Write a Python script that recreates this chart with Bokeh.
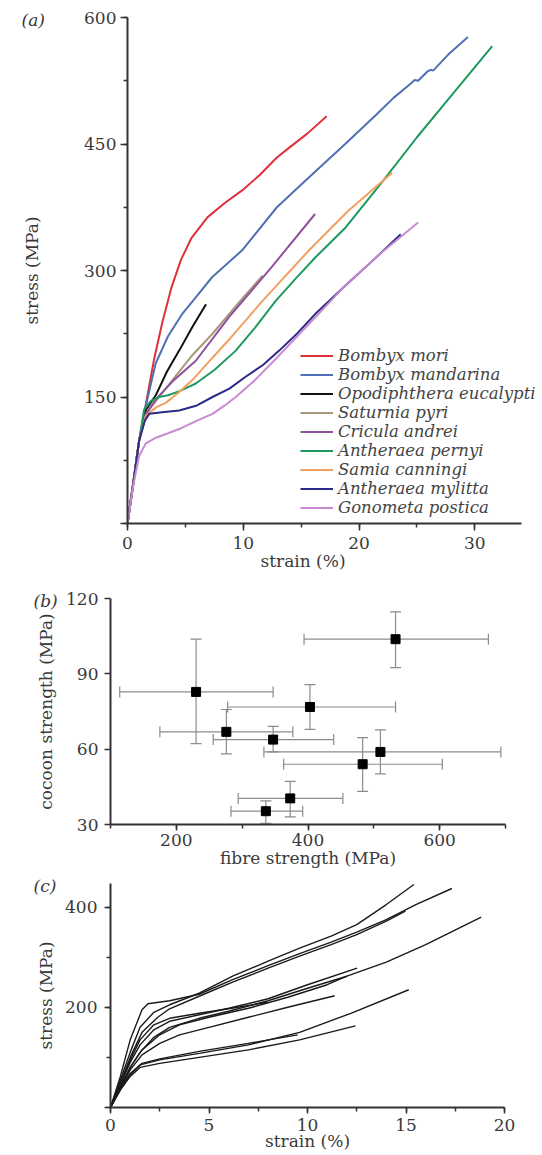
from bokeh.plotting import figure
from bokeh.models import (Legend, LegendItem, SingleIntervalTicker, Title,
                          Range1d, Whisker, TeeHead, ColumnDataSource)
from bokeh.embed import file_html
from bokeh.resources import INLINE

FONT = "DejaVu Serif"
TXT = "#3a3a3a"
AX = "#333333"

# ---------------- panel (a): stress-strain curves of nine species ----------------
species = ["Bombyx mori", "Bombyx mandarina", "Opodiphthera eucalypti", "Saturnia pyri",
           "Cricula andrei", "Antheraea pernyi", "Samia canningi", "Antheraea mylitta",
           "Gonometa postica"]
species_colors = ["#e0303a", "#5070b4", "#111111", "#a89a78", "#9050a0",
                  "#1e9a60", "#f2a060", "#2c2c88", "#c88ad0"]

mori_strain = [0, 0.5, 1.0, 1.7, 2.3, 3.0, 3.8, 4.6, 5.5, 6.9, 8.4, 9.9, 11.4, 12.9, 14.0, 15.5, 17.2]
mori_stress = [0, 48, 98, 150, 195, 238, 280, 312, 338, 363, 380, 395, 413, 434, 446, 462, 483]

mandarina_strain = [0, 0.5, 1.0, 1.5, 2.44, 3.5, 4.75, 6.0, 7.3, 8.6, 9.9, 12.9, 15.8, 18.8, 21.5,
                    23.0, 24.5, 24.8, 25.1, 25.9, 26.2, 26.4, 27.7, 29.4]
mandarina_stress = [0, 48, 98, 135, 190, 222, 249, 270, 292, 308, 324, 375, 412, 450, 485,
                    505, 522, 526, 525, 536, 538, 537, 556, 577]

opodiphthera_strain = [0, 0.5, 1.0, 1.6, 2.44, 3.4, 4.46, 5.6, 6.78]
opodiphthera_stress = [0, 48, 98, 135, 152, 180, 205, 233, 260]

saturnia_strain = [0, 0.5, 1.0, 1.6, 2.73, 4.0, 5.5, 7.34, 9.5, 11.66]
saturnia_stress = [0, 48, 98, 130, 150, 172, 198, 225, 260, 294]

cricula_strain = [0, 0.5, 1.0, 1.6, 2.5, 4.0, 5.9, 8.78, 12.5, 16.2]
cricula_stress = [0, 48, 98, 130, 148, 170, 193, 245, 305, 367]

pernyi_strain = [0, 0.5, 1.0, 1.43, 2.0, 2.73, 3.5, 4.5, 5.9, 7.5, 9.35, 11.0, 12.8, 14.5,
                 16.26, 18.84, 22.0, 25.0, 28.0, 31.5]
pernyi_stress = [0, 48, 98, 135, 145, 150, 152, 157, 166, 182, 205, 232, 264, 290,
                 316, 351, 405, 458, 508, 566]

samia_strain = [0, 0.5, 1.0, 1.6, 2.5, 3.3, 4.4, 5.74, 7.3, 8.9, 11.66, 15.68, 19.0, 22.86]
samia_stress = [0, 48, 98, 128, 138, 143, 155, 172, 196, 220, 264, 324, 370, 416]

mylitta_strain = [0, 0.5, 1.0, 1.5, 1.87, 3.0, 4.46, 6.0, 7.34, 8.8, 10.2, 11.7, 13.1, 14.7,
                  16.26, 18.8, 21.2, 23.6]
mylitta_stress = [0, 48, 98, 122, 130, 132, 134, 140, 150, 160, 174, 188, 205, 226,
                  249, 282, 312, 343]

gonometa_strain = [0, 0.5, 1.0, 1.58, 2.5, 3.5, 4.46, 6.0, 7.34, 8.4, 9.35, 11.0, 13.0,
                   16.26, 19.0, 22.0, 25.1]
gonometa_stress = [0, 45, 80, 95, 102, 107, 112, 122, 130, 140, 150, 170, 198,
                   245, 285, 322, 357]

a_strain = [mori_strain, mandarina_strain, opodiphthera_strain, saturnia_strain, cricula_strain,
            pernyi_strain, samia_strain, mylitta_strain, gonometa_strain]
a_stress = [mori_stress, mandarina_stress, opodiphthera_stress, saturnia_stress, cricula_stress,
            pernyi_stress, samia_stress, mylitta_stress, gonometa_stress]

# ---------------- panel (b): cocoon vs fibre strength ----------------
fibre_strength = [533, 230, 276, 403, 347, 510, 483, 373, 336]
fibre_low = [394, 114, 175, 278, 256, 333, 363, 294, 283]
fibre_high = [674, 347, 377, 533, 439, 693, 604, 453, 392]
cocoon_strength = [103.8, 82.8, 66.9, 76.8, 63.8, 58.9, 54.0, 40.4, 35.3]
cocoon_low = [92.5, 62.2, 58.1, 67.9, 58.9, 50.2, 43.2, 33.0, 30.5]
cocoon_high = [114.7, 103.8, 75.8, 85.7, 69.1, 67.7, 64.6, 47.2, 39.4]

# ---------------- panel (c): individual fibre curves ----------------
c1_strain = [0, 0.5, 1.0, 1.5, 2.2, 3.0, 4.5, 6.2, 8.0, 9.6, 11.2, 12.5, 14.0, 15.4]
c1_stress = [0, 55, 110, 160, 190, 205, 228, 262, 292, 318, 342, 365, 405, 445]
c2_strain = [0, 0.5, 1.0, 1.6, 1.9, 3.0, 4.5, 6.2, 8.0, 9.6, 11.2, 12.5, 14.0, 15.5, 17.33]
c2_stress = [0, 62, 135, 195, 207, 213, 226, 255, 283, 307, 330, 350, 375, 405, 437]
c3_strain = [0, 0.5, 1.0, 1.6, 2.4, 3.0, 4.5, 6.2, 8.0, 9.6, 11.2, 12.5, 14.0, 14.97]
c3_stress = [0, 50, 100, 150, 180, 197, 222, 250, 278, 302, 325, 345, 372, 392]
c4_strain = [0, 0.5, 1.0, 1.5, 2.2, 3.0, 4.5, 6.0, 8.0, 10.0, 12.0, 14.0, 16.0, 18.82]
c4_stress = [0, 40, 80, 110, 140, 160, 178, 192, 213, 238, 262, 290, 325, 380]
c5_strain = [0, 0.5, 1.0, 1.5, 2.2, 3.0, 4.5, 6.0, 8.0, 10.0, 12.52]
c5_stress = [0, 45, 90, 125, 155, 172, 185, 198, 217, 245, 278]
c6_strain = [0, 0.5, 1.0, 1.6, 2.5, 3.5, 5.0, 7.0, 9.0, 11.0, 12.0]
c6_stress = [0, 40, 80, 115, 145, 165, 180, 198, 220, 245, 262]
c7_strain = [0, 0.5, 1.0, 1.6, 2.5, 3.5, 5.0, 7.0, 9.0, 11.38]
c7_stress = [0, 38, 75, 105, 128, 145, 160, 180, 200, 223]
c8_strain = [0, 0.5, 1.0, 1.5, 2.2, 3.0, 4.5, 6.0, 7.97]
c8_stress = [0, 45, 95, 135, 165, 178, 188, 197, 210]
c9_strain = [0, 0.5, 1.0, 1.5, 2.5, 4.5, 7.0, 9.6, 12.2, 15.14]
c9_stress = [0, 35, 65, 85, 95, 108, 125, 150, 188, 235]
c10_strain = [0, 0.5, 1.0, 1.5, 2.5, 4.5, 7.0, 9.6, 12.43]
c10_stress = [0, 35, 62, 80, 88, 100, 115, 135, 163]
c11_strain = [0, 0.5, 1.0, 1.6, 2.5, 4.5, 7.0, 9.5]
c11_stress = [0, 38, 68, 88, 97, 112, 128, 145]

c_strain = [c1_strain, c2_strain, c3_strain, c4_strain, c5_strain, c6_strain,
            c7_strain, c8_strain, c9_strain, c10_strain, c11_strain]
c_stress = [c1_stress, c2_stress, c3_stress, c4_stress, c5_stress, c6_stress,
            c7_stress, c8_stress, c9_stress, c10_stress, c11_stress]


def style_axis(ax, tick_out, minor_out=4):
    ax.axis_line_color = AX
    ax.axis_line_width = 2
    ax.major_tick_line_color = AX
    ax.major_tick_line_width = 1.5
    ax.minor_tick_line_color = AX
    ax.minor_tick_line_width = 1.5
    ax.major_tick_in = 0
    ax.minor_tick_in = 0
    ax.major_tick_out = tick_out
    ax.minor_tick_out = minor_out
    ax.major_label_text_font = FONT
    ax.major_label_text_font_size = "17px"
    ax.major_label_text_color = TXT
    ax.axis_label_text_font = FONT
    ax.axis_label_text_font_size = "17px"
    ax.axis_label_text_font_style = "normal"
    ax.axis_label_text_color = TXT


def style(p, tick_out=7, minor_out=4):
    p.outline_line_color = None
    p.grid.visible = False
    for ax in (p.xaxis[0], p.yaxis[0]):
        style_axis(ax, tick_out, minor_out)


def panel_tag(p, text, offset):
    p.title.text = text
    p.title.align = "left"
    p.title.offset = offset
    p.title.vertical_align = "bottom"
    p.title.standoff = -25
    p.title.text_font = FONT
    p.title.text_font_size = "17px"
    p.title.text_font_style = "italic"
    p.title.text_color = TXT


# ---- figure (a) ----
pa = figure(width=542, height=576, x_range=Range1d(0, 35.84), y_range=Range1d(0, 600),
            output_backend="svg", toolbar_location=None,
            min_border_left=127, min_border_right=0, min_border_top=17, min_border_bottom=53)
style(pa, tick_out=7)
pa.xaxis.bounds = (0, 34)
pa.xaxis.ticker = SingleIntervalTicker(interval=10, num_minor_ticks=2)
pa.yaxis.ticker = SingleIntervalTicker(interval=150, num_minor_ticks=2)
pa.yaxis.major_label_overrides = {0: ""}
pa.yaxis.axis_label = "stress (MPa)"
pa.xaxis.major_label_standoff = 6
pa.yaxis.major_label_standoff = 4
pa.yaxis.axis_label_standoff = 39
# x-axis title: the reference sets it left of the axis middle, so it is placed as a bottom title
pa.add_layout(Title(text="strain (%)", align="left", offset=133, vertical_align="top",
                    standoff=-2, text_font=FONT, text_font_size="17px",
                    text_font_style="normal", text_color=TXT), "below")

items = []
for name, col, xs, ys in zip(species, species_colors, a_strain, a_stress):
    r = pa.line(xs, ys, line_color=col, line_width=2)
    items.append(LegendItem(label=name, renderers=[r]))
leg = Legend(items=items, location=(173, 6), label_text_font=FONT,
             label_text_font_style="italic", label_text_font_size="16.5px",
             label_text_color="#444444", glyph_width=33, glyph_height=19,
             label_height=19, spacing=0, padding=0, margin=0, label_standoff=5,
             border_line_alpha=0, background_fill_alpha=0)
pa.add_layout(leg)
panel_tag(pa, "(a)", -106)

# ---- figure (b) ----
pb = figure(width=542, height=296, x_range=Range1d(100, 700), y_range=Range1d(30, 120),
            output_backend="svg", toolbar_location=None,
            min_border_left=110, min_border_right=37, min_border_top=22, min_border_bottom=48)
style(pb, tick_out=6)
pb.xaxis.ticker = SingleIntervalTicker(interval=200, num_minor_ticks=2)
pb.yaxis.ticker = SingleIntervalTicker(interval=30, num_minor_ticks=1)
pb.yaxis.minor_tick_line_color = None
pb.xaxis.axis_label = "fibre strength (MPa)"
pb.yaxis.axis_label = "cocoon strength (MPa)"
pb.xaxis.major_label_standoff = 3
pb.xaxis.axis_label_standoff = -1
pb.yaxis.major_label_standoff = 6
pb.yaxis.axis_label_standoff = 7

src = ColumnDataSource(dict(x=fibre_strength, y=cocoon_strength, xlo=fibre_low, xhi=fibre_high,
                            ylo=cocoon_low, yhi=cocoon_high))
ERR = "#8c8c8c"
wx = Whisker(source=src, base="y", lower="xlo", upper="xhi", dimension="width",
             line_color=ERR, line_width=1.2, level="underlay",
             lower_head=TeeHead(size=11, line_color=ERR, line_width=1.2),
             upper_head=TeeHead(size=11, line_color=ERR, line_width=1.2))
wy = Whisker(source=src, base="x", lower="ylo", upper="yhi", dimension="height",
             line_color=ERR, line_width=1.2, level="underlay",
             lower_head=TeeHead(size=11, line_color=ERR, line_width=1.2),
             upper_head=TeeHead(size=11, line_color=ERR, line_width=1.2))
pb.add_layout(wx)
pb.add_layout(wy)
pb.scatter("x", "y", source=src, marker="square", size=9, color="black")
panel_tag(pb, "(b)", -77)

# ---- figure (c) ----
pc = figure(width=542, height=283, x_range=Range1d(0, 20), y_range=Range1d(0, 447),
            output_backend="svg", toolbar_location=None,
            min_border_left=110, min_border_right=38, min_border_top=11, min_border_bottom=48)
style(pc, tick_out=6)
pc.xaxis.ticker = SingleIntervalTicker(interval=5, num_minor_ticks=2)
pc.yaxis.ticker = SingleIntervalTicker(interval=200, num_minor_ticks=2)
pc.yaxis.major_label_overrides = {0: ""}
pc.xaxis.axis_label = "strain (%)"
pc.yaxis.axis_label = "stress (MPa)"
pc.xaxis.major_label_standoff = 5
pc.xaxis.axis_label_standoff = -3
pc.yaxis.major_label_standoff = 7
pc.yaxis.axis_label_standoff = 6
for xs, ys in zip(c_strain, c_stress):
    pc.line(xs, ys, line_color="#1a1a1a", line_width=1.4)
panel_tag(pc, "(c)", -77)

open("out.html", "w").write(file_html([pa, pb, pc], INLINE))
